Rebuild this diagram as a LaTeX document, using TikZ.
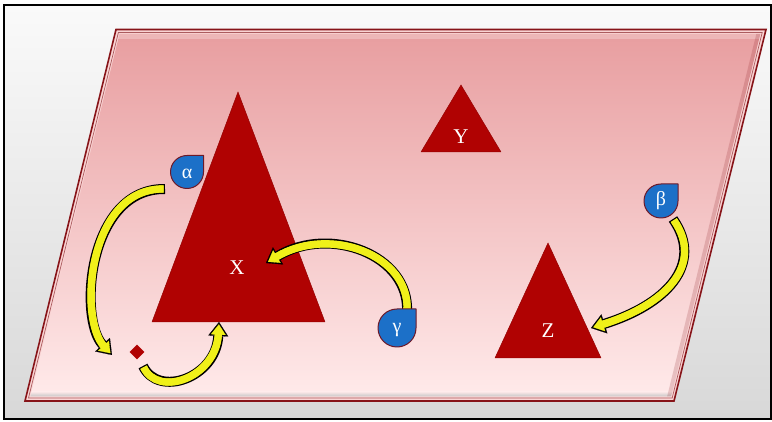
\documentclass[tikz,border=0pt]{standalone}
\usepackage{fontspec}
\setmainfont{Liberation Serif}
\usetikzlibrary{arrows.meta}

\definecolor{frameTop}{RGB}{250,250,250}
\definecolor{frameBot}{RGB}{216,216,216}
\definecolor{rim}{RGB}{135,20,25}
\definecolor{planeRim}{RGB}{250,212,212}
\definecolor{planeTop}{RGB}{232,158,160}
\definecolor{planeBot}{RGB}{255,234,234}
\definecolor{tri}{RGB}{176,2,2}
\definecolor{dropblue}{RGB}{28,112,200}
\definecolor{dropedge}{RGB}{110,25,40}
\definecolor{arrowyel}{RGB}{240,240,25}

% a curved block arrow: black outline body and head, yellow inside
\newcommand\curvedarrow[1]{%
  \draw[arrowout] #1;
  \draw[arrowin] #1;
  \draw[arrowbody] #1;}

\begin{document}
\begin{tikzpicture}[x=1pt,y=-1pt,
  tri/.style={fill=tri, draw=tri!85!black, line width=0.5pt, line join=round},
  trilabel/.style={text=white, font=\fontsize{21}{21}\selectfont, inner sep=0pt},
  droplabel/.style={text=white, font=\fontsize{20}{20}\selectfont, inner sep=0pt},
  drop/.pic={\filldraw[fill=dropblue, draw=dropedge, line width=1pt, line join=round]
      (#1,0) -- (#1,-#1) -- (0,-#1) arc[start angle=270, end angle=0, radius=#1] -- cycle;},
  arrowout/.style={draw=black, line width=10pt,
      -{Triangle[width=20pt,length=14pt,line width=0.1pt]}},
  arrowin/.style={draw=arrowyel, line width=7.2pt, shorten <=1.4pt, shorten >=2.4pt,
      -{Triangle[width=14.6pt,length=10.2pt,line width=0.1pt]}},
  arrowbody/.style={draw=arrowyel, line width=7.2pt, shorten <=1.4pt, shorten >=11.3pt},
]
\useasboundingbox (0,0) rectangle (772,422);
\fill[white] (0,0) rectangle (772,422);

% outer frame
\shade[top color=frameTop, bottom color=frameBot] (4,5) rectangle (770.5,419);
\draw[black, line width=2pt] (4,5) rectangle (770.5,419);

% the plane
\filldraw[fill=planeRim, draw=rim, line width=1.6pt, line join=miter]
  (116,29.5) -- (766,29.5) -- (674,401) -- (25,401) -- cycle;
\draw[rim!70, line width=0.7pt] (118.4,32.5) -- (762.2,32.5) -- (672.2,398) -- (28.5,398) -- cycle;
\shade[top color=planeTop, bottom color=planeBot]
  (119.5,34) -- (760.3,34) -- (671.1,396.5) -- (30.3,396.5) -- cycle;
% bevel light and shadow
\fill[white, opacity=0.25] (119.5,34) -- (760.3,34) -- (759.1,39) -- (118.3,39) -- cycle;
\shade[top color=planeBot, bottom color=gray!45] (31.55,391.5) -- (672.35,391.5) -- (671.1,396.5) -- (30.3,396.5) -- cycle;
\fill[rim, opacity=0.18] (756.3,34) -- (760.3,34) -- (671.1,396.5) -- (667.1,396.5) -- cycle;

% triangles
\filldraw[tri] (238,92) -- (325,322) -- (152,322) -- cycle;
\filldraw[tri] (461,85) -- (501,152) -- (421,152) -- cycle;
\filldraw[tri] (548,243) -- (601,358) -- (495,358) -- cycle;
\node[trilabel] (X) at (237,268) {X};
\node[trilabel] (Y) at (461,137) {Y};
\node[trilabel] (Z) at (548,331) {Z};

% small pivot
\node[fill=tri, minimum size=10.5pt, inner sep=0pt, rotate=45] (pivot) at (137,352) {};

% arrow ends
\coordinate (aTail) at (165,189);
\coordinate (aTip)  at (112,355);
\coordinate (pTail) at (143,366);
\coordinate (pTip)  at (219,322);
\coordinate (gTail) at (407,312);
\coordinate (gTip)  at (266,263);
\coordinate (bTail) at (673,219);
\coordinate (bTip)  at (591,328);

\curvedarrow{(aTail) .. controls (88,188) and (78,318) .. (aTip)}
\curvedarrow{(pTail) .. controls (158,398) and (216,378) .. (pTip)}
\curvedarrow{(gTail) .. controls (410,255) and (330,225) .. (gTip)}
\curvedarrow{(bTail) .. controls (705,265) and (665,305) .. (bTip)}

% badges
\pic at (187,172) {drop=16.5};
\node[droplabel] (alpha) at (187,174) {α};
\pic at (397,328) {drop=19};
\node[droplabel] (gamma) at (397,330) {γ};
\pic at (661,201) {drop=17};
\node[droplabel] (beta) at (661,201) {β};
\end{tikzpicture}
\end{document}
